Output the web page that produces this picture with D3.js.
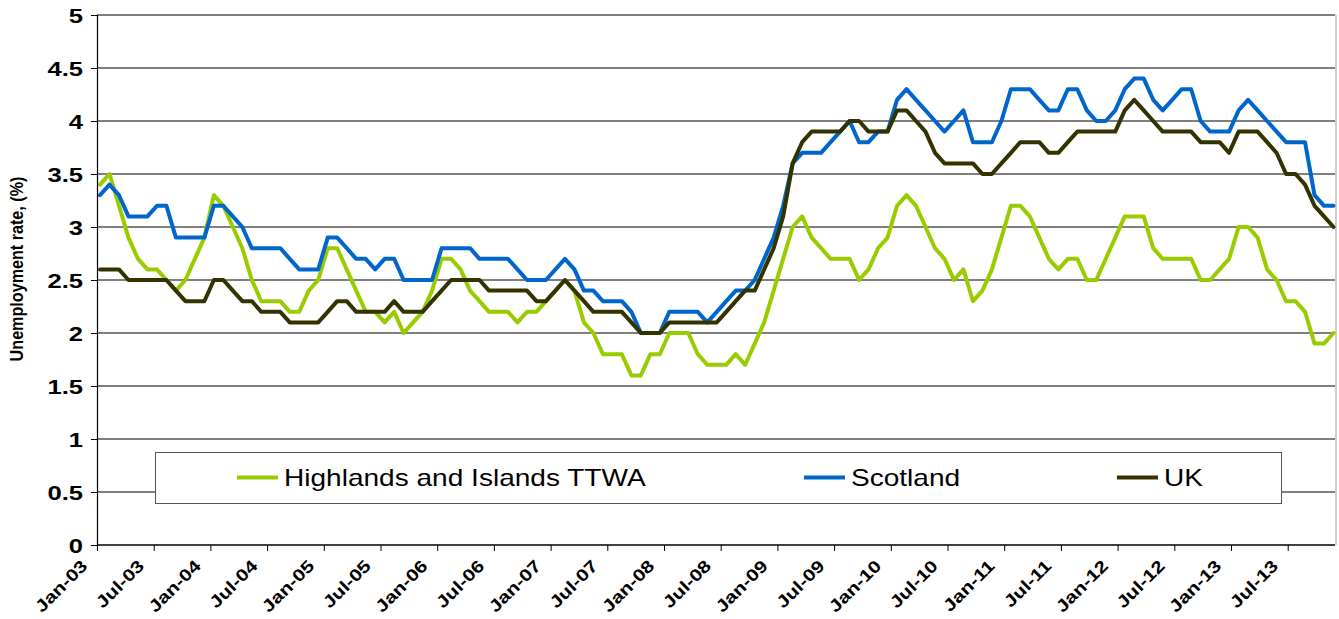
<!DOCTYPE html>
<html>
<head>
<meta charset="utf-8">
<script src="https://cdnjs.cloudflare.com/ajax/libs/d3/7.8.5/d3.min.js"></script>
<style>
  body { margin: 0; background: #fff; }
  text { font-family: "Liberation Sans", Arial, sans-serif; }
</style>
</head>
<body>
<svg id="chart" width="1339" height="619"></svg>
<script>
// monthly series, Jan-03 .. Nov-13
const firstMonth = new Date(2003, 0, 1);
const endMonth = new Date(2013, 11, 1);

const seriesNames = ["Highlands and Islands TTWA", "Scotland", "UK"];
const seriesColors = ["#99cc00", "#0066cc", "#333300"];

const highlands = [
  3.4, 3.5, 3.2, 2.9, 2.7, 2.6, 2.6, 2.5, 2.4, 2.5, 2.7, 2.9,
  3.3, 3.2, 3.0, 2.8, 2.5, 2.3, 2.3, 2.3, 2.2, 2.2, 2.4, 2.5,
  2.8, 2.8, 2.6, 2.4, 2.2, 2.2, 2.1, 2.2, 2.0, 2.1, 2.2, 2.4,
  2.7, 2.7, 2.6, 2.4, 2.3, 2.2, 2.2, 2.2, 2.1, 2.2, 2.2, 2.3,
  2.4, 2.5, 2.4, 2.1, 2.0, 1.8, 1.8, 1.8, 1.6, 1.6, 1.8, 1.8,
  2.0, 2.0, 2.0, 1.8, 1.7, 1.7, 1.7, 1.8, 1.7, 1.9, 2.1, 2.4,
  2.7, 3.0, 3.1, 2.9, 2.8, 2.7, 2.7, 2.7, 2.5, 2.6, 2.8, 2.9,
  3.2, 3.3, 3.2, 3.0, 2.8, 2.7, 2.5, 2.6, 2.3, 2.4, 2.6, 2.9,
  3.2, 3.2, 3.1, 2.9, 2.7, 2.6, 2.7, 2.7, 2.5, 2.5, 2.7, 2.9,
  3.1, 3.1, 3.1, 2.8, 2.7, 2.7, 2.7, 2.7, 2.5, 2.5, 2.6, 2.7,
  3.0, 3.0, 2.9, 2.6, 2.5, 2.3, 2.3, 2.2, 1.9, 1.9, 2.0
];
const scotland = [
  3.3, 3.4, 3.3, 3.1, 3.1, 3.1, 3.2, 3.2, 2.9, 2.9, 2.9, 2.9,
  3.2, 3.2, 3.1, 3.0, 2.8, 2.8, 2.8, 2.8, 2.7, 2.6, 2.6, 2.6,
  2.9, 2.9, 2.8, 2.7, 2.7, 2.6, 2.7, 2.7, 2.5, 2.5, 2.5, 2.5,
  2.8, 2.8, 2.8, 2.8, 2.7, 2.7, 2.7, 2.7, 2.6, 2.5, 2.5, 2.5,
  2.6, 2.7, 2.6, 2.4, 2.4, 2.3, 2.3, 2.3, 2.2, 2.0, 2.0, 2.0,
  2.2, 2.2, 2.2, 2.2, 2.1, 2.2, 2.3, 2.4, 2.4, 2.5, 2.7, 2.9,
  3.2, 3.6, 3.7, 3.7, 3.7, 3.8, 3.9, 4.0, 3.8, 3.8, 3.9, 3.9,
  4.2, 4.3, 4.2, 4.1, 4.0, 3.9, 4.0, 4.1, 3.8, 3.8, 3.8, 4.0,
  4.3, 4.3, 4.3, 4.2, 4.1, 4.1, 4.3, 4.3, 4.1, 4.0, 4.0, 4.1,
  4.3, 4.4, 4.4, 4.2, 4.1, 4.2, 4.3, 4.3, 4.0, 3.9, 3.9, 3.9,
  4.1, 4.2, 4.1, 4.0, 3.9, 3.8, 3.8, 3.8, 3.3, 3.2, 3.2
];
const uk = [
  2.6, 2.6, 2.6, 2.5, 2.5, 2.5, 2.5, 2.5, 2.4, 2.3, 2.3, 2.3,
  2.5, 2.5, 2.4, 2.3, 2.3, 2.2, 2.2, 2.2, 2.1, 2.1, 2.1, 2.1,
  2.2, 2.3, 2.3, 2.2, 2.2, 2.2, 2.2, 2.3, 2.2, 2.2, 2.2, 2.3,
  2.4, 2.5, 2.5, 2.5, 2.5, 2.4, 2.4, 2.4, 2.4, 2.4, 2.3, 2.3,
  2.4, 2.5, 2.4, 2.3, 2.2, 2.2, 2.2, 2.2, 2.1, 2.0, 2.0, 2.0,
  2.1, 2.1, 2.1, 2.1, 2.1, 2.1, 2.2, 2.3, 2.4, 2.4, 2.6, 2.8,
  3.1, 3.6, 3.8, 3.9, 3.9, 3.9, 3.9, 4.0, 4.0, 3.9, 3.9, 3.9,
  4.1, 4.1, 4.0, 3.9, 3.7, 3.6, 3.6, 3.6, 3.6, 3.5, 3.5, 3.6,
  3.7, 3.8, 3.8, 3.8, 3.7, 3.7, 3.8, 3.9, 3.9, 3.9, 3.9, 3.9,
  4.1, 4.2, 4.1, 4.0, 3.9, 3.9, 3.9, 3.9, 3.8, 3.8, 3.8, 3.7,
  3.9, 3.9, 3.9, 3.8, 3.7, 3.5, 3.5, 3.4, 3.2, 3.1, 3.0
];

const yTicks = [0, 0.5, 1, 1.5, 2, 2.5, 3, 3.5, 4, 4.5, 5];
const xTickLabels = ["Jan-03", "Jul-03", "Jan-04", "Jul-04", "Jan-05", "Jul-05",
  "Jan-06", "Jul-06", "Jan-07", "Jul-07", "Jan-08", "Jul-08", "Jan-09", "Jul-09",
  "Jan-10", "Jul-10", "Jan-11", "Jul-11", "Jan-12", "Jul-12", "Jan-13", "Jul-13"];

const svg = d3.select("#chart");
const plotLeft = 97, plotRight = 1335, plotTop = 15, plotBottom = 545;

const fmt = d3.timeFormat("%b-%y");
const months = d3.timeMonth.range(firstMonth, endMonth).map(fmt);

// data points and tick marks sit on slightly different grids in the original
const x = d3.scalePoint().domain(months).range([100, 1333.5]);
const xTick = d3.scalePoint().domain(months).range([97, 1325.5]);
const y = d3.scaleLinear().domain([0, 5]).range([plotBottom, plotTop]);

// gridlines
svg.append("g")
  .selectAll("line")
  .data(yTicks.filter(d => d > 0))
  .join("line")
  .attr("x1", plotLeft).attr("x2", plotRight)
  .attr("y1", d => y(d)).attr("y2", d => y(d))
  .attr("stroke", "#000").attr("stroke-width", 1);

// right frame
svg.append("line")
  .attr("x1", plotRight + 1).attr("x2", plotRight + 1)
  .attr("y1", plotTop).attr("y2", plotBottom)
  .attr("stroke", "#999");

// y axis
const yAxis = svg.append("g")
  .attr("transform", "translate(" + plotLeft + ",0)")
  .call(d3.axisLeft(y).tickValues(yTicks).tickSize(6).tickFormat(d3.format("")));
yAxis.select(".domain").attr("stroke", "#000").attr("stroke-width", 1.2);
yAxis.selectAll("line").attr("stroke", "#000");
yAxis.selectAll("text")
  .attr("font-size", 20).attr("font-weight", "bold").attr("fill", "#000")
  .style("font-family", "'Liberation Sans', Arial, sans-serif")
  .attr("x", 0).attr("dy", "0.36em")
  .attr("transform", "translate(-14,0) scale(1.28,1)");

// x axis
const xAxis = svg.append("g")
  .attr("transform", "translate(0," + plotBottom + ")")
  .call(d3.axisBottom(xTick).tickValues(xTickLabels).tickSize(6).tickSizeOuter(0));
xAxis.select(".domain").attr("d", "M" + plotLeft + ",0H" + plotRight).attr("stroke", "#000").attr("stroke-width", 1.5);
xAxis.selectAll("line").attr("stroke", "#000");
xAxis.selectAll("text")
  .attr("font-size", 17).attr("font-weight", "bold").attr("fill", "#000")
  .style("font-family", "'Liberation Sans', Arial, sans-serif")
  .attr("text-anchor", "end")
  .attr("dy", 0)
  .attr("transform", "translate(-9,22) rotate(-45) scale(1.22,1)")
  .attr("x", 0).attr("y", 0);

// y title
svg.append("text")
  .attr("transform", "translate(23,269) rotate(-90) scale(0.85,1)")
  .attr("text-anchor", "middle")
  .attr("font-size", 19).attr("font-weight", "bold")
  .text("Unemployment rate, (%)");

// lines
const allSeries = [highlands, scotland, uk];
const line = d3.line()
  .x((d, i) => x(months[i]))
  .y(d => y(d));

svg.append("g")
  .selectAll("path")
  .data(allSeries)
  .join("path")
  .attr("d", d => line(d))
  .attr("fill", "none")
  .attr("stroke", (d, i) => seriesColors[i])
  .attr("stroke-width", 4)
  .attr("stroke-linejoin", "round")
  .attr("stroke-linecap", "round");

// legend
const legend = svg.append("g");
legend.append("rect")
  .attr("x", 155.5).attr("y", 452.5).attr("width", 1126).attr("height", 51)
  .attr("fill", "#fff").attr("stroke", "#555").attr("stroke-width", 1);
const legendX = [237, 804, 1117];
seriesNames.forEach((name, i) => {
  legend.append("line")
    .attr("x1", legendX[i]).attr("x2", legendX[i] + 41)
    .attr("y1", 477.5).attr("y2", 477.5)
    .attr("stroke", seriesColors[i]).attr("stroke-width", 4);
  legend.append("text")
    .attr("transform", "translate(" + (legendX[i] + 47) + ",486) scale(1.22,1)")
    .attr("font-size", 23)
    .text(name);
});
</script>
</body>
</html>
